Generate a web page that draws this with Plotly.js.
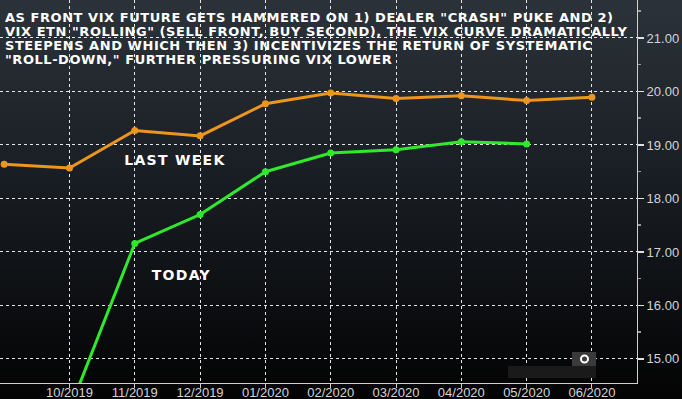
<!DOCTYPE html>
<html>
<head>
<meta charset="utf-8">
<script src="https://cdn.plot.ly/plotly-3.0.1.min.js"></script>
<style>
  html, body { margin: 0; padding: 0; background: #000; }
  #chart { width: 682px; height: 399px;
    background: linear-gradient(to bottom, #2b3239 0%, #1b2026 40%, #0d0f12 75%, #030303 100%); }
  #chart g.annotation[data-index="0"] text,
  #chart g.annotation[data-index="1"] text,
  #chart g.annotation[data-index="2"] text,
  #chart g.annotation[data-index="3"] text { letter-spacing: 0.55px; }
  #chart g.annotation[data-index="4"] text,
  #chart g.annotation[data-index="5"] text { letter-spacing: 1.3px; }
</style>
</head>
<body>
<div id="chart"></div>
<script>
// Months (category axis)
const months = ["09/2019","10/2019","11/2019","12/2019","01/2020","02/2020","03/2020","04/2020","05/2020","06/2020"];
const tickLabels = ["10/2019","11/2019","12/2019","01/2020","02/2020","03/2020","04/2020","05/2020","06/2020"];

// VIX futures curve, last week
const lastWeekMonths = ["09/2019","10/2019","11/2019","12/2019","01/2020","02/2020","03/2020","04/2020","05/2020","06/2020"];
const lastWeek = [18.64, 18.57, 19.27, 19.17, 19.77, 19.97, 19.87, 19.92, 19.83, 19.89];

// VIX futures curve, today
const todayMonths = ["10/2019","11/2019","12/2019","01/2020","02/2020","03/2020","04/2020","05/2020"];
const today = [14.05, 17.16, 17.70, 18.50, 18.85, 18.91, 19.06, 19.02];

const yTicks = [15, 16, 17, 18, 19, 20, 21];

const titleLines = [
  'AS FRONT VIX FUTURE GETS HAMMERED ON 1) DEALER "CRASH" PUKE AND 2)',
  'VIX ETN "ROLLING" (SELL FRONT, BUY SECOND), THE VIX CURVE DRAMATICALLY',
  'STEEPENS AND WHICH THEN 3) INCENTIVIZES THE RETURN OF SYSTEMATIC',
  '"ROLL-DOWN," FURTHER PRESSURING VIX LOWER'
];

const traces = [
  { x: lastWeekMonths, y: lastWeek, type: 'scatter', mode: 'lines+markers',
    line: { color: '#ee951c', width: 3 }, marker: { color: '#ee951c', size: 7 },
    cliponaxis: true, hoverinfo: 'x+y' },
  { x: todayMonths, y: today, type: 'scatter', mode: 'lines+markers',
    line: { color: '#30e82c', width: 3 }, marker: { color: '#30e82c', size: 7 },
    cliponaxis: true, hoverinfo: 'x+y' }
];

const W = 637, H = 383;
const titleY = [17.6, 31.8, 45.4, 59];
const annotations = titleLines.map((t, i) => ({
  text: t, xref: 'paper', yref: 'paper', x: 3/W, y: 1 - titleY[i]/H,
  xanchor: 'left', yanchor: 'middle', align: 'left', showarrow: false,
  font: { family: 'DejaVu Sans', size: 13, color: '#ffffff', weight: 'bold' }
}));
annotations.push(
  { text: 'LAST WEEK', xref: 'paper', yref: 'paper', x: 175/W, y: 1 - 159.5/H,
    xanchor: 'center', yanchor: 'middle', showarrow: false,
    font: { family: 'DejaVu Sans', size: 14, color: '#ffffff', weight: 'bold' } },
  { text: 'TODAY', xref: 'paper', yref: 'paper', x: 182/W, y: 1 - 274.5/H,
    xanchor: 'center', yanchor: 'middle', showarrow: false,
    font: { family: 'DejaVu Sans', size: 14, color: '#ffffff', weight: 'bold' } }
);

const layout = {
  width: 682, height: 399,
  margin: { l: 0, r: 45, t: 0, b: 16, pad: 0 },
  paper_bgcolor: 'rgba(0,0,0,0)',
  plot_bgcolor: 'rgba(0,0,0,0)',
  showlegend: false,
  font: { family: 'Liberation Sans', color: '#d4d4d4', size: 13 },
  xaxis: {
    type: 'category',
    categoryorder: 'array', categoryarray: months,
    range: [-0.064, 9.69],
    tickvals: tickLabels, ticktext: tickLabels,
    showgrid: true, gridcolor: '#e6e6e6', griddash: 'dot', gridwidth: 1,
    showline: true, linecolor: '#d0d0d0', linewidth: 1,
    ticks: 'outside', ticklen: 4, tickcolor: '#cfcfcf',
    ticklabelstandoff: -7,
    tickfont: { family: 'Liberation Sans', size: 13, color: '#d4d4d4' },
    zeroline: false, fixedrange: true
  },
  yaxis: {
    side: 'right',
    range: [14.55, 21.71],
    tickvals: yTicks, tickformat: '.2f',
    showgrid: true, gridcolor: '#e6e6e6', griddash: 'dot', gridwidth: 1,
    showline: true, linecolor: '#d0d0d0', linewidth: 1,
    ticks: 'outside', ticklen: 6, tickcolor: '#e0e0e0', tickwidth: 1.5,
    minor: { dtick: 0.5, tick0: 0.5, ticks: 'outside', ticklen: 3, tickcolor: '#9a9a9a', showgrid: false },
    tickfont: { family: 'Liberation Sans', size: 13, color: '#d4d4d4' },
    zeroline: false, fixedrange: true
  },
  annotations: annotations,
  shapes: [
    { type: 'rect', xref: 'paper', yref: 'paper', layer: 'above',
      x0: 508/W, x1: 596/W, y0: 1 - 378/H, y1: 1 - 366/H,
      fillcolor: '#1a1a1a', line: { width: 0 } },
    { type: 'rect', xref: 'paper', yref: 'paper', layer: 'above',
      x0: 572/W, x1: 596/W, y0: 1 - 366/H, y1: 1 - 352/H,
      fillcolor: '#3a3a3a', line: { width: 0 } },
    { type: 'circle', xref: 'paper', yref: 'paper', layer: 'above',
      x0: 581/W, x1: 588/W, y0: 1 - 362.5/H, y1: 1 - 355.5/H,
      fillcolor: '#3a3a3a', line: { color: '#ffffff', width: 2 } }
  ]
};

Plotly.newPlot('chart', traces, layout, { displayModeBar: false, staticPlot: true });
</script>
</body>
</html>
